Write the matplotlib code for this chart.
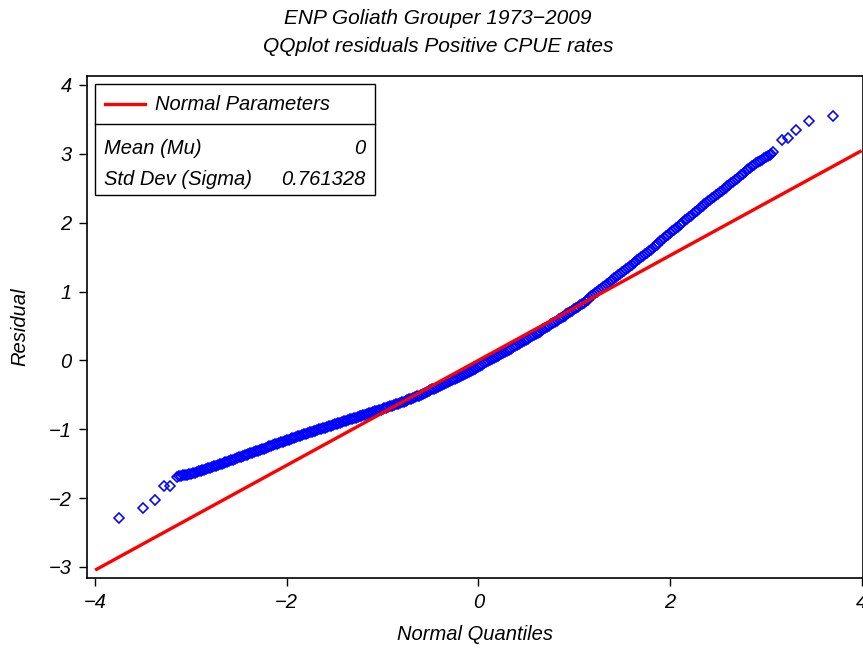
import matplotlib
matplotlib.use("Agg")
import matplotlib.pyplot as plt
from matplotlib.patches import Rectangle
from matplotlib.lines import Line2D

plt.rcParams['font.family'] = ['Liberation Sans', 'DejaVu Sans']
plt.rcParams['font.style'] = 'italic'

# Sparse lower tail of the residual quantiles
tail_lo_q = [-3.75, -3.50, -3.37, -3.28, -3.22, -3.15, -3.12]
tail_lo_r = [-2.29, -2.15, -2.03, -1.83, -1.82, -1.70, -1.68]

# Dense body: normal quantiles and residual quantiles
body_q = [
    -3.10, -3.08, -3.06, -3.04, -3.02, -3.00, -2.98, -2.96, -2.94, -2.92,
    -2.90, -2.88, -2.86, -2.84, -2.82, -2.80, -2.78, -2.76, -2.74, -2.72,
    -2.70, -2.68, -2.66, -2.64, -2.62, -2.60, -2.58, -2.56, -2.54, -2.52,
    -2.50, -2.48, -2.46, -2.44, -2.42, -2.40, -2.38, -2.36, -2.34, -2.32,
    -2.30, -2.28, -2.26, -2.24, -2.22, -2.20, -2.18, -2.16, -2.14, -2.12,
    -2.10, -2.08, -2.06, -2.04, -2.02, -2.00, -1.98, -1.96, -1.94, -1.92,
    -1.90, -1.88, -1.86, -1.84, -1.82, -1.80, -1.78, -1.76, -1.74, -1.72,
    -1.70, -1.68, -1.66, -1.64, -1.62, -1.60, -1.58, -1.56, -1.54, -1.52,
    -1.50, -1.48, -1.46, -1.44, -1.42, -1.40, -1.38, -1.36, -1.34, -1.32,
    -1.30, -1.28, -1.26, -1.24, -1.22, -1.20, -1.18, -1.16, -1.14, -1.12,
    -1.10, -1.08, -1.06, -1.04, -1.02, -1.00, -0.98, -0.96, -0.94, -0.92,
    -0.90, -0.88, -0.86, -0.84, -0.82, -0.80, -0.78, -0.76, -0.74, -0.72,
    -0.70, -0.68, -0.66, -0.64, -0.62, -0.60, -0.58, -0.56, -0.54, -0.52,
    -0.50, -0.48, -0.46, -0.44, -0.42, -0.40, -0.38, -0.36, -0.34, -0.32,
    -0.30, -0.28, -0.26, -0.24, -0.22, -0.20, -0.18, -0.16, -0.14, -0.12,
    -0.10, -0.08, -0.06, -0.04, -0.02, 0.00, 0.02, 0.04, 0.06, 0.08,
    0.10, 0.12, 0.14, 0.16, 0.18, 0.20, 0.22, 0.24, 0.26, 0.28,
    0.30, 0.32, 0.34, 0.36, 0.38, 0.40, 0.42, 0.44, 0.46, 0.48,
    0.50, 0.52, 0.54, 0.56, 0.58, 0.60, 0.62, 0.64, 0.66, 0.68,
    0.70, 0.72, 0.74, 0.76, 0.78, 0.80, 0.82, 0.84, 0.86, 0.88,
    0.90, 0.92, 0.94, 0.96, 0.98, 1.00, 1.02, 1.04, 1.06, 1.08,
    1.10, 1.12, 1.14, 1.16, 1.18, 1.20, 1.22, 1.24, 1.26, 1.28,
    1.30, 1.32, 1.34, 1.36, 1.38, 1.40, 1.42, 1.44, 1.46, 1.48,
    1.50, 1.52, 1.54, 1.56, 1.58, 1.60, 1.62, 1.64, 1.66, 1.68,
    1.70, 1.72, 1.74, 1.76, 1.78, 1.80, 1.82, 1.84, 1.86, 1.88,
    1.90, 1.92, 1.94, 1.96, 1.98, 2.00, 2.02, 2.04, 2.06, 2.08,
    2.10, 2.12, 2.14, 2.16, 2.18, 2.20, 2.22, 2.24, 2.26, 2.28,
    2.30, 2.32, 2.34, 2.36, 2.38, 2.40, 2.42, 2.44, 2.46, 2.48,
    2.50, 2.52, 2.54, 2.56, 2.58, 2.60, 2.62, 2.64, 2.66, 2.68,
    2.70, 2.72, 2.74, 2.76, 2.78, 2.80, 2.82, 2.84, 2.86, 2.88,
    2.90, 2.92, 2.94, 2.96, 2.98, 3.00, 3.02, 3.04, 3.06, 3.08,
]
body_r = [
    -1.675, -1.669, -1.663, -1.657, -1.651, -1.645, -1.637, -1.629, -1.621, -1.613,
    -1.605, -1.596, -1.587, -1.578, -1.569, -1.560, -1.550, -1.540, -1.530, -1.520,
    -1.510, -1.500, -1.490, -1.480, -1.470, -1.460, -1.450, -1.440, -1.430, -1.420,
    -1.410, -1.400, -1.390, -1.380, -1.370, -1.360, -1.350, -1.340, -1.330, -1.320,
    -1.310, -1.300, -1.290, -1.280, -1.270, -1.260, -1.250, -1.240, -1.230, -1.220,
    -1.210, -1.200, -1.190, -1.180, -1.170, -1.160, -1.150, -1.140, -1.130, -1.120,
    -1.110, -1.101, -1.092, -1.083, -1.074, -1.065, -1.056, -1.047, -1.038, -1.029,
    -1.020, -1.011, -1.002, -0.993, -0.984, -0.975, -0.966, -0.957, -0.948, -0.939,
    -0.930, -0.921, -0.912, -0.903, -0.894, -0.885, -0.876, -0.867, -0.858, -0.849,
    -0.840, -0.831, -0.822, -0.813, -0.804, -0.795, -0.786, -0.777, -0.768, -0.759,
    -0.750, -0.741, -0.732, -0.723, -0.714, -0.705, -0.696, -0.687, -0.678, -0.669,
    -0.660, -0.650, -0.640, -0.630, -0.620, -0.610, -0.599, -0.588, -0.577, -0.566,
    -0.555, -0.544, -0.533, -0.522, -0.511, -0.500, -0.487, -0.474, -0.461, -0.448,
    -0.435, -0.422, -0.409, -0.396, -0.383, -0.370, -0.357, -0.344, -0.331, -0.318,
    -0.305, -0.291, -0.277, -0.263, -0.249, -0.235, -0.221, -0.207, -0.193, -0.179,
    -0.165, -0.150, -0.135, -0.120, -0.105, -0.090, -0.075, -0.060, -0.045, -0.030,
    -0.015, 0.000, 0.015, 0.030, 0.045, 0.060, 0.076, 0.092, 0.108, 0.124,
    0.140, 0.156, 0.172, 0.188, 0.204, 0.220, 0.236, 0.252, 0.268, 0.284,
    0.300, 0.317, 0.334, 0.351, 0.368, 0.385, 0.402, 0.419, 0.436, 0.453,
    0.470, 0.488, 0.506, 0.524, 0.542, 0.560, 0.578, 0.596, 0.614, 0.632,
    0.650, 0.668, 0.686, 0.704, 0.722, 0.740, 0.760, 0.780, 0.800, 0.820,
    0.840, 0.862, 0.884, 0.906, 0.928, 0.950, 0.972, 0.994, 1.016, 1.038,
    1.060, 1.082, 1.104, 1.126, 1.148, 1.170, 1.192, 1.214, 1.236, 1.258,
    1.280, 1.302, 1.324, 1.346, 1.368, 1.390, 1.412, 1.434, 1.456, 1.478,
    1.500, 1.522, 1.544, 1.566, 1.588, 1.610, 1.634, 1.658, 1.682, 1.706,
    1.730, 1.754, 1.778, 1.802, 1.826, 1.850, 1.872, 1.894, 1.916, 1.938,
    1.960, 1.984, 2.008, 2.032, 2.056, 2.080, 2.104, 2.128, 2.152, 2.176,
    2.200, 2.222, 2.244, 2.266, 2.288, 2.310, 2.332, 2.354, 2.376, 2.398,
    2.420, 2.442, 2.464, 2.486, 2.508, 2.530, 2.552, 2.574, 2.596, 2.618,
    2.640, 2.664, 2.688, 2.712, 2.736, 2.760, 2.780, 2.800, 2.820, 2.840,
    2.860, 2.878, 2.896, 2.914, 2.932, 2.950, 2.968, 2.986, 3.004, 3.022,
]

# Sparse upper tail
tail_hi_q = [3.17, 3.23, 3.32, 3.45, 3.70]
tail_hi_r = [3.20, 3.23, 3.35, 3.47, 3.55]

mu = 0.0
sigma = 0.761328
line_x = [-4.0, 4.0]

title_lines = ["ENP Goliath Grouper 1973\u22122009", "QQplot residuals Positive CPUE rates"]
x_label = "Normal Quantiles"
y_label = "Residual"
x_ticks = [-4, -2, 0, 2, 4]
y_ticks = [-3, -2, -1, 0, 1, 2, 3, 4]

W, H = 863, 649
fig = plt.figure(figsize=(W / 100, H / 100), dpi=100)
ax = fig.add_axes([87 / W, 1 - 578 / H, (862.5 - 87) / W, (578 - 76) / H])

qq_x = tail_lo_q + body_q + tail_hi_q
qq_y = tail_lo_r + body_r + tail_hi_r
ax.plot(qq_x, qq_y, linestyle='none', marker='D', markersize=5.3,
        markerfacecolor='none', markeredgecolor='#0000ff', markeredgewidth=1.15,
        zorder=2)
ax.plot(line_x, [mu + sigma * v for v in line_x], color='#ff0000', linewidth=2.4,
        zorder=3, solid_capstyle='butt')

ax.set_xlim(-4.085, 4.01)
ax.set_ylim(-3.16, 4.13)
ax.set_xticks(x_ticks)
ax.set_yticks(y_ticks)
ax.tick_params(direction='out', length=6, width=1.0, labelsize=14.5, pad=5, color='black')
for s in ax.spines.values():
    s.set_linewidth(1.2)
ax.set_xlabel(x_label, fontsize=14.5, labelpad=9)
ax.set_ylabel(y_label, fontsize=14.5, labelpad=14)

fig.text(438 / W, 1 - 18 / H, title_lines[0], ha='center', va='center', fontsize=15)
fig.text(438 / W, 1 - 47 / H, title_lines[1], ha='center', va='center', fontsize=15)

# Parameter box
def fx(px):
    return px / W

def fy(py):
    return 1 - py / H

box = Rectangle((fx(95), fy(195)), fx(375) - fx(95), fy(84) - fy(195),
                transform=fig.transFigure, facecolor='white', edgecolor='black',
                linewidth=1.0, zorder=5)
fig.add_artist(box)
fig.add_artist(Line2D([fx(95), fx(375)], [fy(124), fy(124)], transform=fig.transFigure,
                      color='black', linewidth=1.0, zorder=6))
fig.add_artist(Line2D([fx(105), fx(145)], [fy(104), fy(104)], transform=fig.transFigure,
                      color='#ff0000', linewidth=2.4, zorder=6))
fig.text(fx(155), fy(105), "Normal Parameters", ha='left', va='center', fontsize=14.5, zorder=7)
fig.text(fx(104), fy(148), "Mean (Mu)", ha='left', va='center', fontsize=14.5, zorder=7)
fig.text(fx(365), fy(148), f"{mu:g}", ha='right', va='center', fontsize=14.5, zorder=7)
fig.text(fx(104), fy(179), "Std Dev (Sigma)", ha='left', va='center', fontsize=14.5, zorder=7)
fig.text(fx(365), fy(179), f"{sigma:.6f}", ha='right', va='center', fontsize=14.5, zorder=7)

fig.savefig("out.png", dpi=100)
